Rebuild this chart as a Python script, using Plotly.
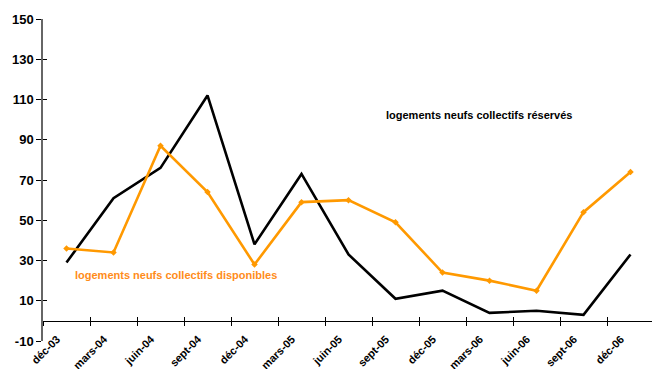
import plotly.graph_objects as go

categories = ["déc-03", "mars-04", "juin-04", "sept-04", "déc-04", "mars-05", "juin-05",
              "sept-05", "déc-05", "mars-06", "juin-06", "sept-06", "déc-06"]
reserves = [29, 61, 76, 112, 38, 73, 33, 11, 15, 4, 5, 3, 33]
disponibles = [36, 34, 87, 64, 28, 59, 60, 49, 24, 20, 15, 54, 74]
y_ticks = [-10, 10, 30, 50, 70, 90, 110, 130, 150]

label_res = "logements neufs collectifs réservés"
label_dis = "logements neufs collectifs disponibles"

n = len(categories)
xpos = list(range(n))
tick_bounds = [i - 0.5 for i in range(n)]
xr = [-0.5, n - 0.5 - 2 / 47]
yr = [-10, 150]
zero_frac = (0 - yr[0]) / (yr[1] - yr[0])

ORANGE = "#FF9900"
FONT = "Liberation Sans, Arial, sans-serif"

fig = go.Figure()
fig.add_trace(go.Scatter(x=xpos, y=reserves, mode="lines",
                         line=dict(color="black", width=2.6), hoverinfo="skip", showlegend=False))
fig.add_trace(go.Scatter(x=xpos, y=disponibles, mode="lines+markers",
                         line=dict(color=ORANGE, width=2.6),
                         marker=dict(symbol="diamond", size=5, color=ORANGE),
                         hoverinfo="skip", showlegend=False))
# dummy traces so overlay axes render
fig.add_trace(go.Scatter(x=[], y=[], xaxis="x2", yaxis="y", showlegend=False))
fig.add_trace(go.Scatter(x=[], y=[], xaxis="x3", yaxis="y", showlegend=False))
fig.add_trace(go.Scatter(x=[], y=[], xaxis="x", yaxis="y2", showlegend=False))

fig.add_annotation(text="<b>" + label_res + "</b>", x=8.78, y=102.4, xref="x", yref="y",
                   showarrow=False, font=dict(family=FONT, size=11, color="black"))
fig.add_annotation(text="<b>" + label_dis + "</b>", x=2.33, y=22.9, xref="x", yref="y",
                   showarrow=False, font=dict(family=FONT, size=11, color="#FF8C1A"))

fig.update_layout(
    width=652, height=369,
    margin=dict(l=43, r=0, t=19, b=28),
    paper_bgcolor="white", plot_bgcolor="white",
    font=dict(family=FONT, color="black"),
    xaxis=dict(range=xr, tickvals=tick_bounds, ticktext=["<b>%s</b>" % c for c in categories],
               tickangle=-45, ticks="", showline=False, showgrid=False, zeroline=False,
               automargin=False, anchor="free", position=0.035,
               ticklabelshift=14, tickfont=dict(size=11, family=FONT)),
    xaxis2=dict(range=xr, overlaying="x", anchor="free", position=zero_frac,
                tickvals=tick_bounds, ticks="outside", ticklen=4, tickcolor="black",
                showline=True, linecolor="black", linewidth=1, automargin=False,
                showticklabels=False, showgrid=False, zeroline=False),
    xaxis3=dict(range=xr, overlaying="x", anchor="free", position=zero_frac,
                tickvals=tick_bounds, ticks="inside", ticklen=4, tickcolor="black",
                showline=False, showticklabels=False, showgrid=False, zeroline=False,
                automargin=False),
    yaxis=dict(range=yr, tickvals=y_ticks, ticktext=["<b>%d</b>" % v for v in y_ticks],
               ticks="outside", ticklen=5, tickcolor="black",
               showline=True, linecolor="#666666", linewidth=1.5,
               showgrid=False, zeroline=False, automargin=False,
               tickfont=dict(size=13, family=FONT)),
    yaxis2=dict(range=yr, overlaying="y", side="left", anchor="x",
                tickvals=y_ticks, ticks="inside", ticklen=4, tickcolor="black",
                showline=False, showticklabels=False, showgrid=False, zeroline=False,
                automargin=False),
)

fig.write_html("out.html")
